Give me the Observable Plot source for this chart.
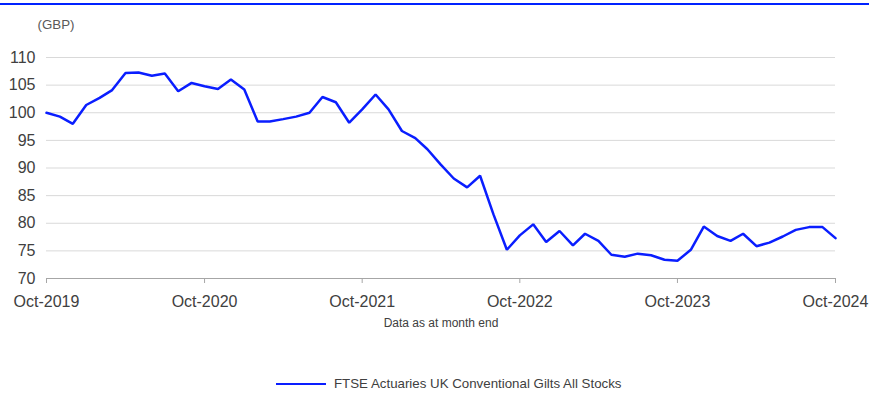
<!DOCTYPE html>
<html>
<head>
<meta charset="utf-8">
<script src="https://cdn.jsdelivr.net/npm/d3@7"></script>
<script src="https://cdn.jsdelivr.net/npm/@observablehq/plot@0.6"></script>
<style>
  html, body { margin: 0; padding: 0; background: #fff; }
  body { width: 869px; height: 394px; position: relative; overflow: hidden;
         font-family: "Liberation Sans", Arial, sans-serif; }
  #topline { position: absolute; left: 0; top: 3px; width: 869px; height: 2px;
             background: #0022ff; }
  #chart { position: absolute; left: 0; top: 5px; }
  #legend { position: absolute; left: 276px; top: 376px; display: flex; align-items: center;
            font-size: 13.3px; color: #404040; }
  #legend .swatch { width: 50px; height: 0; border-top: 2.5px solid #0a1eff; margin-right: 8px; }
</style>
</head>
<body>
<div id="topline"></div>
<div id="chart"></div>
<div id="legend"><span class="swatch"></span><span id="legend-label"></span></div>
<script>
// Monthly index values, Oct-2019 to Oct-2024 (month end)
const seriesName = "FTSE Actuaries UK Conventional Gilts All Stocks";
const startMonth = new Date(Date.UTC(2019, 9, 1));
const values = [
  100.0, 99.3, 98.0, 101.4, 102.7, 104.1, 107.2, 107.3, 106.7, 107.1, 103.9, 105.4,
  104.8, 104.3, 106.0, 104.2, 98.4, 98.4, 98.85, 99.3, 100.0, 102.85, 101.9, 98.2,
  100.6, 103.3, 100.6, 96.7, 95.4, 93.4, 90.6, 88.1, 86.5, 88.6, 81.6, 75.2,
  77.8, 79.8, 76.6, 78.6, 76.0, 78.1, 76.8, 74.3, 73.95, 74.5, 74.2, 73.4,
  73.2, 75.2, 79.4, 77.7, 76.8, 78.1, 75.85, 76.5, 77.6, 78.8, 79.3, 79.3,
  77.3
];
const yTicks = [70, 75, 80, 85, 90, 95, 100, 105, 110];
const xTickYears = [2019, 2020, 2021, 2022, 2023, 2024];
const unitLabel = "(GBP)";
const xCaption = "Data as at month end";

const data = values.map((v, i) => ({date: d3.utcMonth.offset(startMonth, i), value: v}));
const xTicks = xTickYears.map(y => new Date(Date.UTC(y, 9, 1)));

const chart = Plot.plot({
  width: 869,
  height: 335,
  marginTop: 52,
  marginBottom: 62,
  marginLeft: 46,
  marginRight: 34,
  style: {fontFamily: "'Liberation Sans', Arial, sans-serif", background: "#fff"},
  x: {type: "utc", domain: [xTicks[0], xTicks[xTicks.length - 1]]},
  y: {domain: [70, 110]},
  marks: [
    Plot.gridY(yTicks.filter(t => t > 70), {stroke: "#d9d9d9", strokeOpacity: 1, strokeWidth: 1}),
    Plot.ruleY([70], {stroke: "#a6a6a6", strokeWidth: 1}),
    Plot.axisY({ticks: yTicks, tickSize: 0, tickPadding: 11, fontSize: 16, color: "#404040", label: null}),
    Plot.axisX({ticks: xTicks, tickFormat: d3.utcFormat("%b-%Y"), tickSize: 5, tickPadding: 12,
                fontSize: 16, color: "#404040", stroke: "#a6a6a6", label: null}),
    Plot.line(data, {x: "date", y: "value", stroke: "#0a1eff", strokeWidth: 2.5, strokeLinejoin: "miter"}),
    Plot.text([unitLabel], {frameAnchor: "top-left", textAnchor: "start", dx: -9, dy: -38,
                            fontSize: 13.3, fill: "#595959"}),
    Plot.text([xCaption], {frameAnchor: "bottom", dy: 48, fontSize: 12, fill: "#404040"})
  ]
});
document.getElementById("chart").appendChild(chart);
document.getElementById("legend-label").textContent = seriesName;
</script>
</body>
</html>
